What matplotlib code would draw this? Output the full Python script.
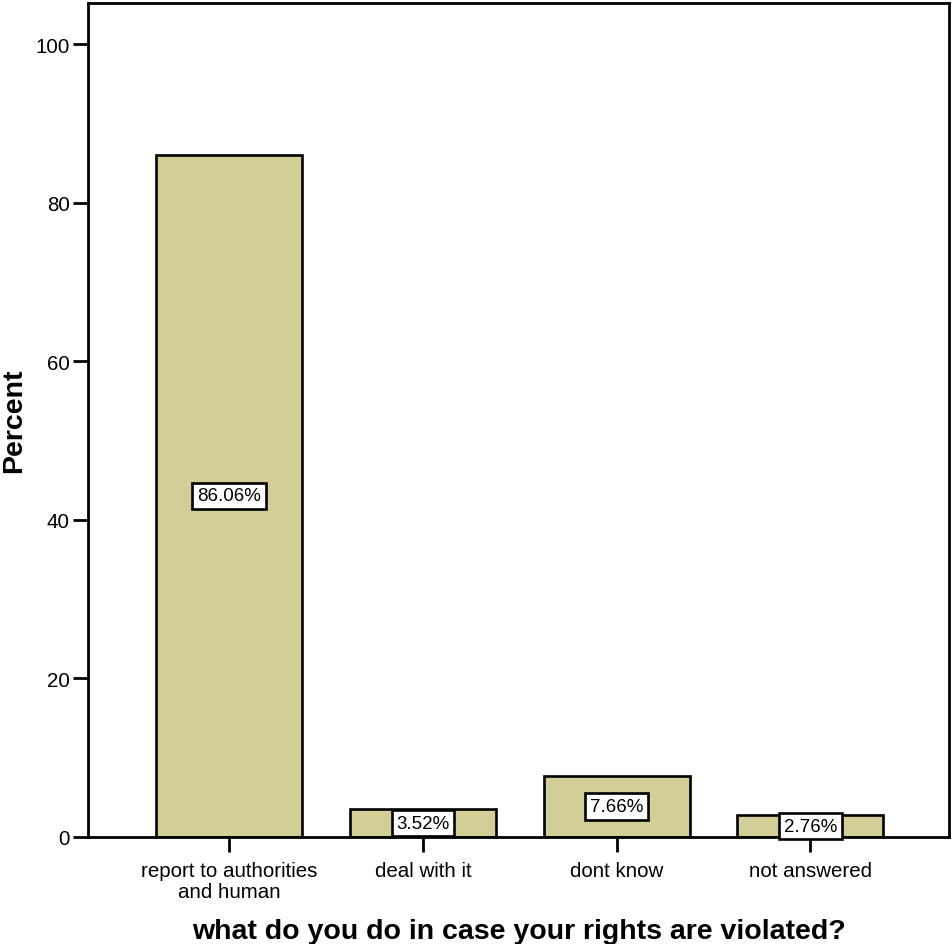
import matplotlib
matplotlib.use("Agg")
import matplotlib.pyplot as plt
import numpy as np

plt.rcParams['font.family'] = ['Liberation Sans', 'DejaVu Sans']

categories = ["report to authorities\nand human", "deal with it", "dont know", "not answered"]
percents = [86.06, 3.52, 7.66, 2.76]
y_ticks = [0, 20, 40, 60, 80, 100]

bar_color = "#d3ce98"

fig = plt.figure(figsize=(9.52, 9.45), dpi=100)
ax = fig.add_axes([88 / 952, (945 - 838) / 945, (949 - 88) / 952, (838 - 4) / 945])

x = np.arange(len(categories))
ax.bar(x, percents, width=0.753, color=bar_color, edgecolor="black", linewidth=1.9, zorder=2)

for xi, v in zip(x, percents):
    ax.text(xi, v / 2, f"{v:.2f}%", ha="center", va="center", fontsize=13.5, zorder=3,
            bbox=dict(boxstyle="square,pad=0.25", facecolor="white", edgecolor="black", linewidth=1.9))

ax.set_xlim(-0.728, 3.715)
ax.set_ylim(0, 105.2)
ax.set_yticks(y_ticks)
ax.set_xticks(x)
ax.set_xticklabels(categories, fontsize=14.8, linespacing=1.15)
ax.tick_params(axis="y", labelsize=14.8, length=11, width=2.0, pad=2)
ax.tick_params(axis="x", length=11, width=2.0, pad=6)

for s in ax.spines.values():
    s.set_linewidth(2.0)

ax.set_xlabel("what do you do in case your rights are violated?", fontsize=20.5, fontweight="bold", labelpad=12)
ax.set_ylabel("Percent", fontsize=20.5, fontweight="bold", labelpad=6)

fig.savefig("out.png", dpi=100)
